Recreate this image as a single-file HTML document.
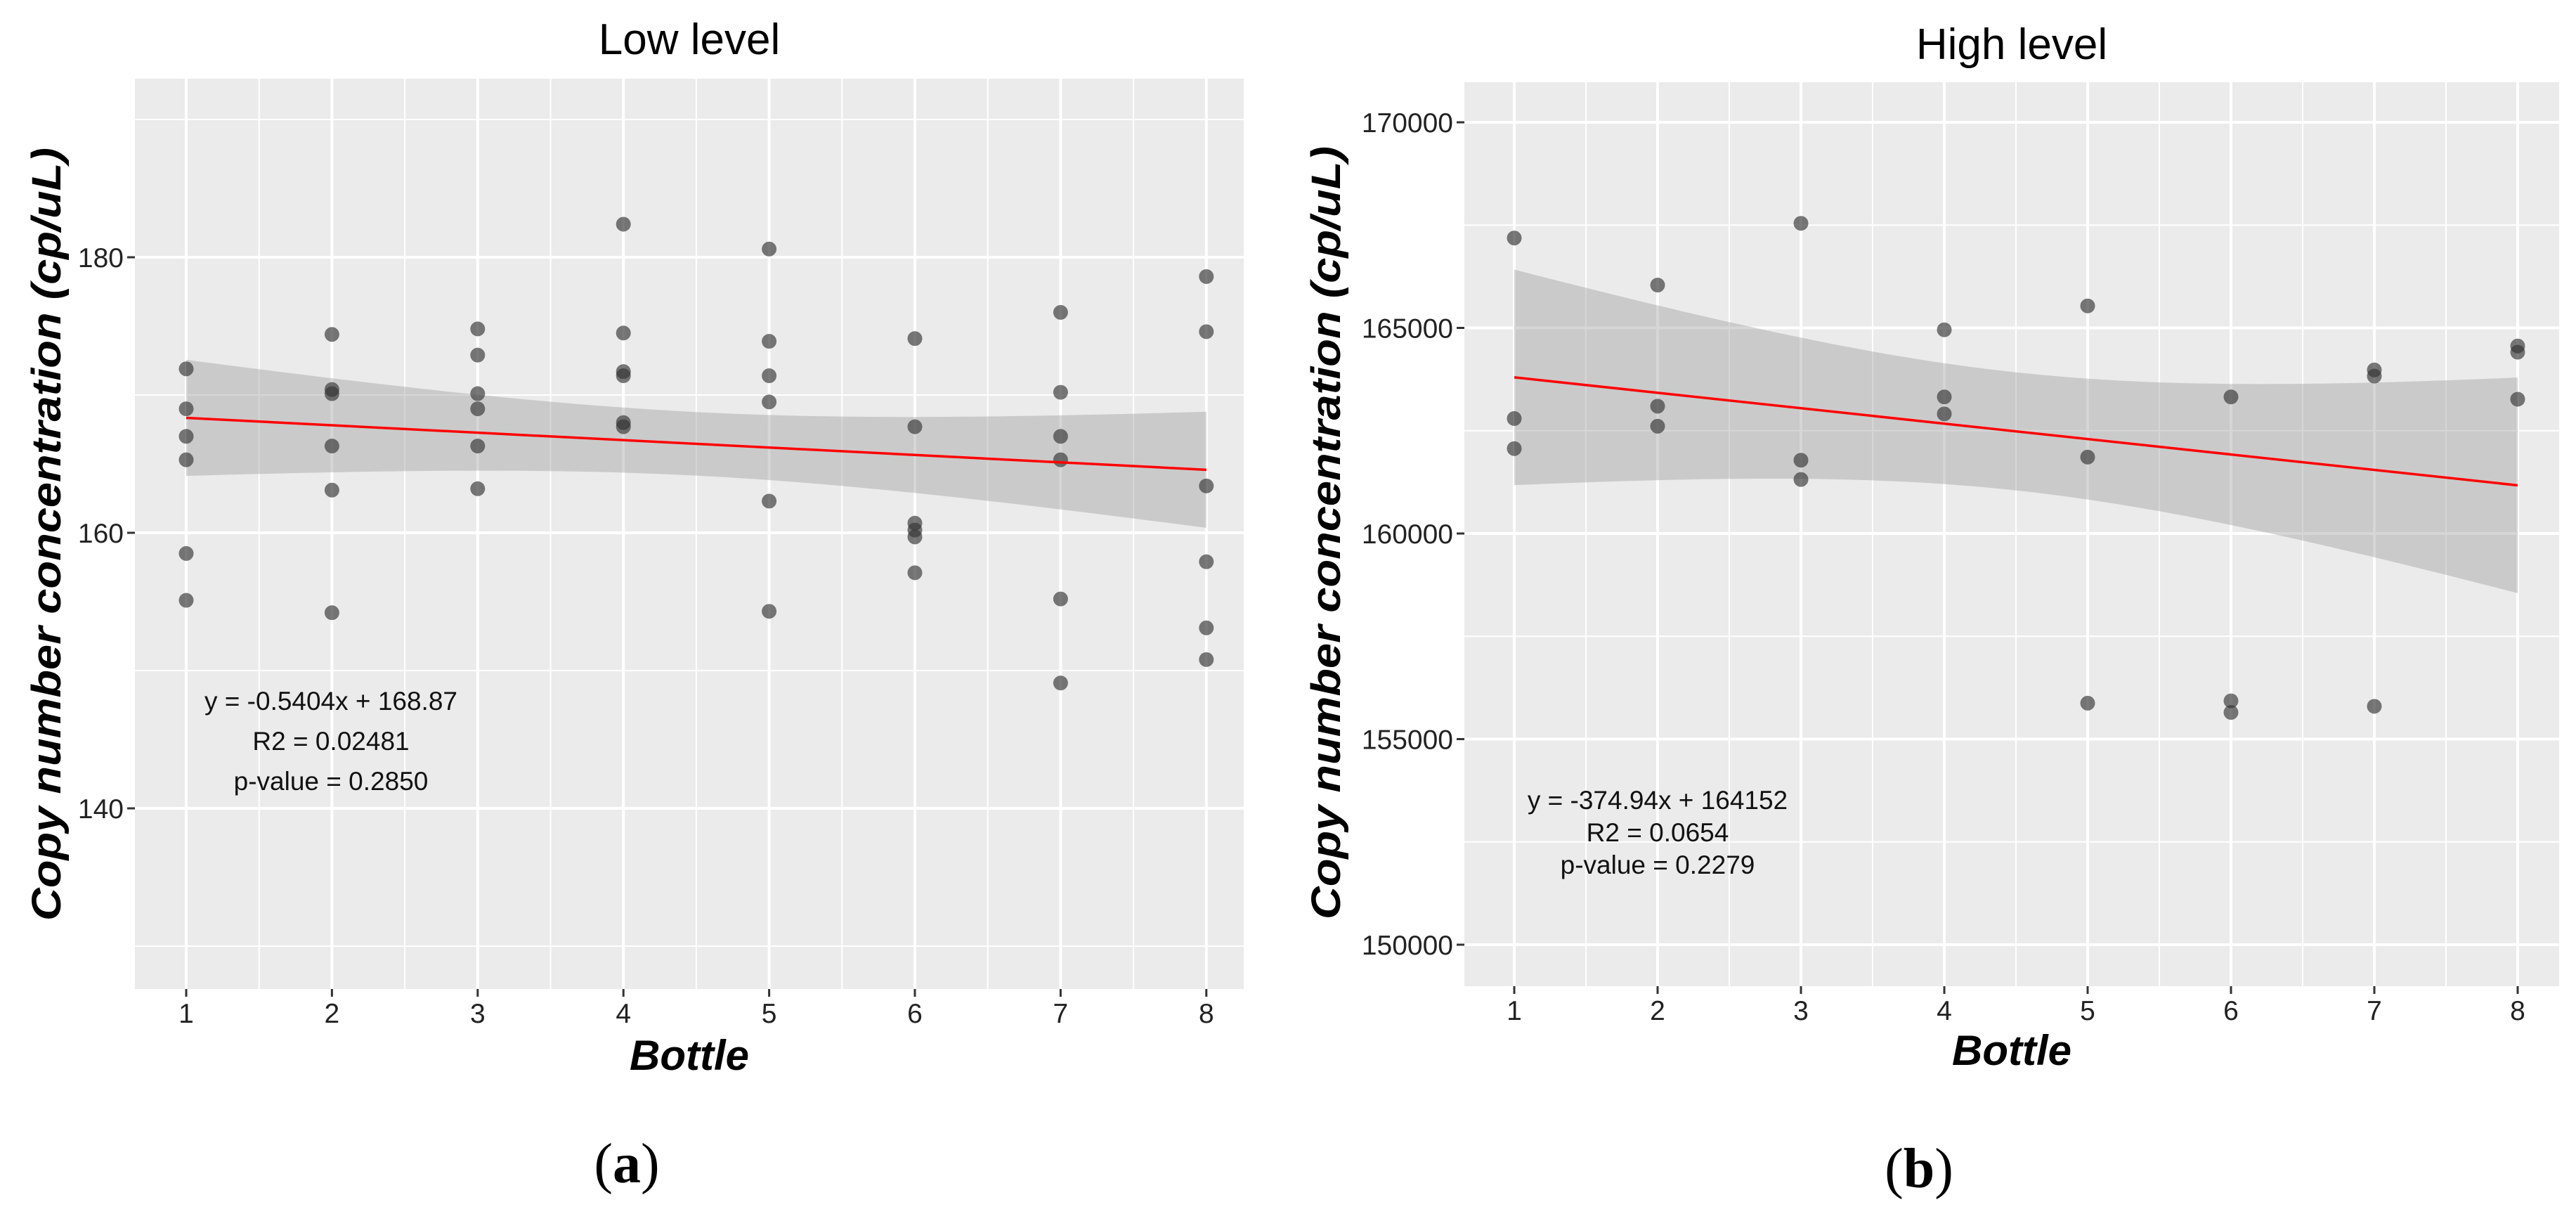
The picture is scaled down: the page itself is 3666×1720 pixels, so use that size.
<!DOCTYPE html>
<html><head><meta charset="utf-8">
<style>
html,body{margin:0;padding:0;background:#fff;}
svg{display:block;}
text{font-family:"Liberation Sans",Arial,sans-serif;}
</style></head>
<body>
<svg id="fig" width="3666" height="1720" viewBox="0 0 3666 1720" xmlns="http://www.w3.org/2000/svg">
<g id="panelA"></g>
<g id="panelB"></g>
</svg>
<script>
// ---- Data: Low level ----
const lowBottles = [1,1,1,1,1,1, 2,2,2,2,2,2, 3,3,3,3,3,3, 4,4,4,4,4,4, 5,5,5,5,5,5, 6,6,6,6,6,6, 7,7,7,7,7,7, 8,8,8,8,8,8];
const lowValues = [171.9,169.0,167.0,165.3,158.5,155.1,
  174.4,170.4,170.1,166.3,163.1,154.2,
  174.8,172.9,170.1,169.0,166.3,163.2,
  182.4,174.5,171.7,171.4,168.0,167.7,
  180.6,173.9,171.4,169.5,162.3,154.3,
  174.1,167.7,160.7,160.2,159.7,157.1,
  176.0,170.2,167.0,165.3,155.2,149.1,
  178.6,174.6,163.4,157.9,153.1,150.8];
const lowYTicks = [140,160,180];
const lowYTickLabels = ["140","160","180"];
const lowYMinor = [130,150,170,190];
const lowAnnotation = ["y = -0.5404x + 168.87","R2 = 0.02481","p-value = 0.2850"];

// ---- Data: High level ----
const highBottles = [1,1,1, 2,2,2, 3,3,3, 4,4,4, 5,5,5, 6,6,6, 7,7,7, 8,8,8];
const highValues = [167186,162796,162065,
  166042,163096,162609,
  167543,161783,161314,
  164954,163322,162909,
  165535,161858,155874,
  163322,155930,155649,
  163978,163828,155798,
  164560,164410,163266];
const highYTicks = [150000,155000,160000,165000,170000];
const highYTickLabels = ["150000","155000","160000","165000","170000"];
const highYMinor = [152500,157500,162500,167500];
const highAnnotation = ["y = -374.94x + 164152","R2 = 0.0654","p-value = 0.2279"];

const xTicks = [1,2,3,4,5,6,7,8];
const xTickLabels = ["1","2","3","4","5","6","7","8"];
const xMinor = [1.5,2.5,3.5,4.5,5.5,6.5,7.5];

const NS = "http://www.w3.org/2000/svg";
function mk(tag, attrs, parent){
  const e = document.createElementNS(NS, tag);
  for (const k in attrs) e.setAttribute(k, attrs[k]);
  parent.appendChild(e);
  return e;
}
// t-quantile approx for 95% two-sided
function tq(df){ return 1.96 + 2.4/df + 2.0/(df*df); }

function drawPanel(g, cfg, xs, ys, yTicks, yLabels, yMinor, annot){
  const L=cfg.left,R=cfg.right,T=cfg.top,B=cfg.bottom;
  const xPx = v => cfg.x1 + (v-1)*cfg.xUnit;
  const yPx = v => cfg.yRefPx + (cfg.yRef - v)*cfg.yScale;

  const bg = mk('rect',{x:L,y:T,width:R-L,height:B-T,fill:'#ebebeb'},g);
  
  

  yMinor.forEach(v=>{
    const l = mk('line',{x1:L,x2:R,y1:yPx(v),y2:yPx(v),stroke:'#fff','stroke-width':2},g);
    
    
  });
  xMinor.forEach(v=>{
    const l = mk('line',{x1:xPx(v),x2:xPx(v),y1:T,y2:B,stroke:'#fff','stroke-width':2},g);
    
    
  });
  yTicks.forEach((v,i)=>{
    const y=yPx(v);
    const l = mk('line',{x1:L,x2:R,y1:y,y2:y,stroke:'#fff','stroke-width':4},g);
    
    
    const tk = mk('line',{x1:L-11,x2:L,y1:y,y2:y,stroke:'#333','stroke-width':3},g);
    
    
    const t = mk('text',{x:L-16,y:y+14,'text-anchor':'end','font-size':39,fill:'#222'},g);
    t.textContent = yLabels[i];
    
    
  });
  xTicks.forEach((v,i)=>{
    const x=xPx(v);
    const l = mk('line',{x1:x,x2:x,y1:T,y2:B,stroke:'#fff','stroke-width':4},g);
    
    
    const tk = mk('line',{x1:x,x2:x,y1:B,y2:B+11,stroke:'#333','stroke-width':3},g);
    
    
    const t = mk('text',{x:x,y:cfg.xLabelBase,'text-anchor':'middle','font-size':39,fill:'#222'},g);
    t.textContent = xTickLabels[i];
    
    
  });

  // linear fit + 95% CI band computed from data
  const n=xs.length;
  const mx=xs.reduce((a,b)=>a+b,0)/n, my=ys.reduce((a,b)=>a+b,0)/n;
  let sxx=0,sxy=0; for(let i=0;i<n;i++){sxx+=(xs[i]-mx)**2; sxy+=(xs[i]-mx)*(ys[i]-my);}
  const b1=sxy/sxx, b0=my-b1*mx;
  let sse=0; for(let i=0;i<n;i++){sse+=(ys[i]-b0-b1*xs[i])**2;}
  const s=Math.sqrt(sse/(n-2)), t=tq(n-2);
  const up=[],lo=[];
  for(let k=0;k<=70;k++){
    const xv=1+7*k/70, fit=b0+b1*xv, hw=t*s*Math.sqrt(1/n+(xv-mx)**2/sxx);
    up.push(xPx(xv).toFixed(1)+','+yPx(fit+hw).toFixed(1));
    lo.unshift(xPx(xv).toFixed(1)+','+yPx(fit-hw).toFixed(1));
  }
  const band = mk('polygon',{points:up.concat(lo).join(' '),fill:'#999','fill-opacity':0.4},g);
  
  

  for(let i=0;i<n;i++){
    const c = mk('circle',{cx:xPx(xs[i]),cy:yPx(ys[i]),r:10.5,fill:'#333','fill-opacity':0.65},g);
    
    
  }
  const fl = mk('line',{x1:xPx(1),y1:yPx(b0+b1),x2:xPx(8),y2:yPx(b0+8*b1),stroke:'#ff0000','stroke-width':3.5},g);
  
  

  annot.forEach((a,i)=>{
    const tx = mk('text',{x:cfg.annX,y:cfg.annY+i*cfg.annGap,'text-anchor':'middle','font-size':37,fill:'#111'},g);
    tx.textContent=a;
    
    
  });

  const title = mk('text',{x:cfg.titleX,y:cfg.titleY,'text-anchor':'middle','font-size':62,fill:'#000'},g);
  title.textContent=cfg.title;
  
  

  const xt = mk('text',{x:cfg.titleX,y:cfg.xTitleY,'text-anchor':'middle','font-size':60,'font-weight':'bold','font-style':'italic',fill:'#000'},g);
  xt.textContent='Bottle';
  
  

  const yt = mk('text',{x:0,y:0,'text-anchor':'middle','font-size':58,'font-weight':'bold','font-style':'italic',fill:'#000',textLength:1100,lengthAdjust:'spacingAndGlyphs',transform:'translate('+cfg.yTitleX+','+cfg.yTitleCY+') rotate(-90)'},g);
  yt.textContent='Copy number concentration (cp/uL)';
  
  

  const lab = mk('text',{x:cfg.labX,y:cfg.labY,'text-anchor':'middle','font-size':80,fill:'#000',style:'font-family:"Liberation Serif",serif'},g);
  lab.innerHTML='(<tspan font-weight="bold">'+cfg.lab+'</tspan>)';
  
  
}

drawPanel(document.getElementById('panelA'),{
  left:192,right:1770,top:112,bottom:1407,
  x1:265,xUnit:207.4,yRef:180,yRefPx:366,yScale:19.6,
  xLabelBase:1455,annX:471,annY:1010,annGap:57,
  title:'Low level',titleX:981,titleY:77,xTitleY:1522,
  yTitleX:86,yTitleCY:760,labX:892,labY:1682,lab:'a'
}, lowBottles, lowValues, lowYTicks, lowYTickLabels, lowYMinor, lowAnnotation);

drawPanel(document.getElementById('panelB'),{
  left:2084,right:3642,top:117,bottom:1403,
  x1:2155,xUnit:204,yRef:170000,yRefPx:174,yScale:292.5/5000,
  xLabelBase:1451,annX:2359,annY:1151,annGap:46,
  title:'High level',titleX:2863,titleY:84,xTitleY:1515,
  yTitleX:1907,yTitleCY:758,labX:2731,labY:1689,lab:'b'
}, highBottles, highValues, highYTicks, highYTickLabels, highYMinor, highAnnotation);
</script>
</body></html>
